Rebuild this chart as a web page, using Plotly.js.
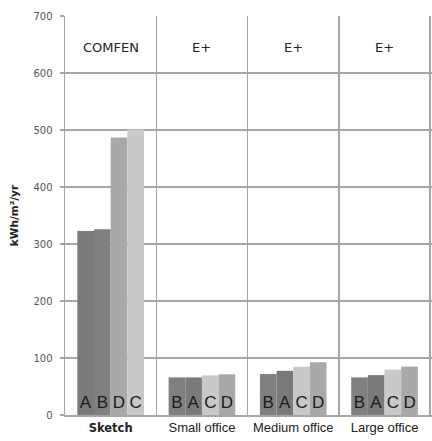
<!DOCTYPE html>
<html>
<head>
<meta charset="utf-8">
<script src="https://cdn.plot.ly/plotly-3.0.1.min.js"></script>
<style>html,body{margin:0;padding:0;background:#fff;}#chart{width:432px;height:441px;}</style>
</head>
<body>
<div id="chart"></div>
<script>
// Data
var categories = ['Sketch', 'Small office', 'Medium office', 'Large office'];
var tickLabels = ['<span style="font-family:DejaVu Sans;font-size:11.5px"><b>Sketch</b></span>', 'Small office', 'Medium office', 'Large office'];
var toolLabels = ['COMFEN', 'E+', 'E+', 'E+'];
// Order of the bars inside each category
var barOrder = [
  ['A', 'B', 'D', 'C'],
  ['B', 'A', 'C', 'D'],
  ['B', 'A', 'C', 'D'],
  ['B', 'A', 'C', 'D']
];
var valuesA = [323, 66, 77.5, 70];
var valuesB = [326, 66, 72, 66];
var valuesC = [501, 69.5, 84.5, 79.5];
var valuesD = [487, 71.5, 92.5, 85];
var yTicks = [0, 100, 200, 300, 400, 500, 600, 700];

var valuesByLetter = {A: valuesA, B: valuesB, C: valuesC, D: valuesD};
var colorByLetter = {A: '#7a7a7a', B: '#808080', C: '#c9c9c9', D: '#a9a9a9'};

var traces = [];
for (var slot = 0; slot < 4; slot++) {
  var ys = [], txt = [], cols = [];
  for (var c = 0; c < categories.length; c++) {
    var letter = barOrder[c][slot];
    ys.push(valuesByLetter[letter][c]);
    txt.push(letter);
    cols.push(colorByLetter[letter]);
  }
  traces.push({
    type: 'bar',
    x: categories,
    y: ys,
    text: txt,
    textposition: 'inside',
    insidetextanchor: 'start',
    textangle: 0,
    constraintext: 'none',
    textfont: {family: 'Liberation Sans, Arial, sans-serif', size: 17, color: '#1a1a1a'},
    marker: {color: cols, line: {width: 0}},
    hoverinfo: 'none',
    showlegend: false
  });
}

var annotations = categories.map(function (cat, i) {
  return {
    x: cat, y: 645, xref: 'x', yref: 'y',
    text: toolLabels[i], showarrow: false,
    font: {family: 'DejaVu Sans, sans-serif', size: 13, color: '#222'}
  };
});

var layout = {
  width: 432, height: 441,
  margin: {l: 65, r: 0, t: 16, b: 26},
  paper_bgcolor: '#fff', plot_bgcolor: '#fff',
  barmode: 'group',
  bargap: 0.27,
  bargroupgap: 0,
  showlegend: false,
  xaxis: {
    type: 'category',
    range: [-0.5, 3.52],
    tickvals: categories,
    ticktext: tickLabels,
    tickson: 'boundaries',
    ticks: '',
    showgrid: true,
    gridcolor: '#a6a6a6',
    gridwidth: 1.5,
    showline: true,
    linecolor: '#a6a6a6',
    linewidth: 1.5,
    tickfont: {family: 'Liberation Sans, Arial, sans-serif', size: 13, color: '#222'},
    fixedrange: true
  },
  yaxis: {
    range: [0, 700],
    tickvals: yTicks,
    ticks: 'outside',
    ticklen: 4,
    tickcolor: '#a6a6a6',
    tickwidth: 1.5,
    ticklabelstandoff: 5,
    showgrid: true,
    gridcolor: '#a6a6a6',
    gridwidth: 1.5,
    zeroline: false,
    showline: true,
    linecolor: '#a6a6a6',
    linewidth: 1.5,
    tickfont: {family: 'DejaVu Sans, sans-serif', size: 10, color: '#555'},
    title: {text: '<b>kWh/m²/yr</b>', standoff: 12, font: {family: 'DejaVu Sans, sans-serif', size: 10.5, color: '#222'}},
    fixedrange: true
  },
  annotations: annotations
};

Plotly.newPlot('chart', traces, layout, {displayModeBar: false, staticPlot: true});
</script>
</body>
</html>
